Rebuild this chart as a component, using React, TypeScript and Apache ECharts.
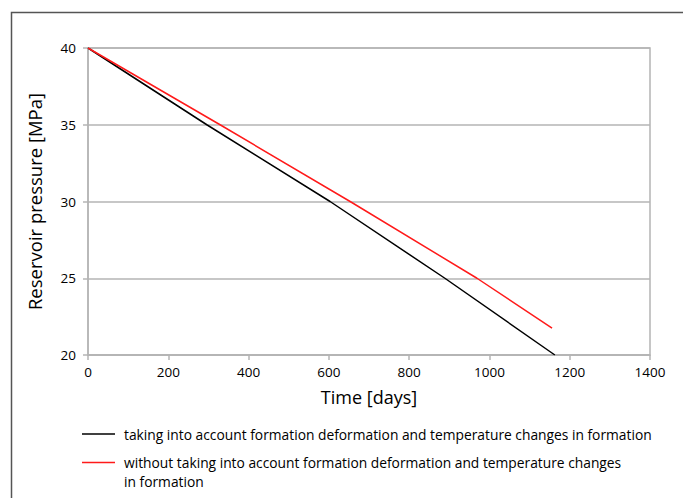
import React, { useEffect, useRef } from "react";
import * as echarts from "echarts";

const seriesNames = [
  "taking into account formation deformation and temperature changes in formation",
  "without taking into account formation deformation and temperature changes in formation",
];
const legendLines = [
  ["taking into account formation deformation and temperature changes in formation"],
  ["without taking into account formation deformation and temperature changes", "in formation"],
];
const blackDays = [0, 296, 603, 889, 1163];
const blackPressure = [40, 35, 30, 25, 20];
const redDays = [0, 329, 653, 969, 1156];
const redPressure = [40, 35, 30, 25, 21.75];
const colors = ["#000000", "#ff1a1a"];

const FONT = "'Open Sans', 'Liberation Sans', sans-serif";

export default function App() {
  const ref = useRef<HTMLDivElement>(null);
  useEffect(() => {
    const chart = echarts.init(ref.current!, null, { renderer: "svg" });
    const zip = (xs: number[], ys: number[]) => xs.map((x, i) => [x, ys[i]]);
    const legendText = (text: string, y: number) => ({
      type: "text",
      x: 124,
      y,
      style: {
        text,
        fontFamily: FONT,
        fontSize: 13.8,
        lineHeight: 15,
        fill: "#000",
        verticalAlign: "middle",
      },
    });
    chart.setOption({
      animation: false,
      backgroundColor: "#ffffff",
      grid: {
        left: 88,
        right: 33,
        top: 48,
        bottom: 143,
        show: true,
        borderColor: "#b4b4b4",
        borderWidth: 1.5,
        backgroundColor: "transparent",
      },
      xAxis: {
        type: "value",
        min: 0,
        max: 1400,
        interval: 200,
        name: "Time [days]",
        nameLocation: "middle",
        nameGap: 33,
        nameTextStyle: { fontFamily: FONT, fontSize: 18, color: "#000" },
        axisLine: { show: true, lineStyle: { color: "#b4b4b4", width: 1.5 } },
        axisTick: { show: true, length: 5, lineStyle: { color: "#b4b4b4", width: 1.5 } },
        axisLabel: {
          fontFamily: FONT,
          fontSize: 13.5,
          color: "#000",
          margin: 10,
          formatter: (v: number) => String(v),
        },
        splitLine: { show: false },
      },
      yAxis: {
        type: "value",
        min: 20,
        max: 40,
        interval: 5,
        name: "Reservoir pressure [MPa]",
        nameLocation: "middle",
        nameGap: 44,
        nameTextStyle: { fontFamily: FONT, fontSize: 18.5, color: "#000" },
        axisLine: { show: true, lineStyle: { color: "#b4b4b4", width: 1.5 } },
        axisTick: { show: true, length: 5, lineStyle: { color: "#b4b4b4", width: 1.5 } },
        axisLabel: { fontFamily: FONT, fontSize: 13.5, color: "#000", margin: 12 },
        splitLine: { show: true, lineStyle: { color: "#b4b4b4", width: 1.5 } },
      },
      series: [
        {
          name: seriesNames[0],
          type: "line",
          data: zip(blackDays, blackPressure),
          showSymbol: false,
          lineStyle: { color: colors[0], width: 1.5 },
          itemStyle: { color: colors[0] },
        },
        {
          name: seriesNames[1],
          type: "line",
          data: zip(redDays, redPressure),
          showSymbol: false,
          lineStyle: { color: colors[1], width: 1.5 },
          itemStyle: { color: colors[1] },
        },
      ],
      graphic: [
        {
          type: "rect",
          shape: { x: 11.5, y: 12.5, width: 800, height: 600 },
          style: { fill: "none", stroke: "#555555", lineWidth: 1.5 },
          silent: true,
        },
        {
          type: "line",
          shape: { x1: 82, y1: 434, x2: 115, y2: 434 },
          style: { stroke: colors[0], lineWidth: 1.5 },
        },
        legendText(legendLines[0][0], 434),
        {
          type: "line",
          shape: { x1: 82, y1: 462.5, x2: 115, y2: 462.5 },
          style: { stroke: colors[1], lineWidth: 1.5 },
        },
        legendText(legendLines[1][0], 462),
        legendText(legendLines[1][1], 481.5),
      ],
    });
    return () => chart.dispose();
  }, []);
  return (
    <div
      ref={ref}
      style={{ position: "fixed", left: 0, top: 0, width: 683, height: 498 }}
    />
  );
}
